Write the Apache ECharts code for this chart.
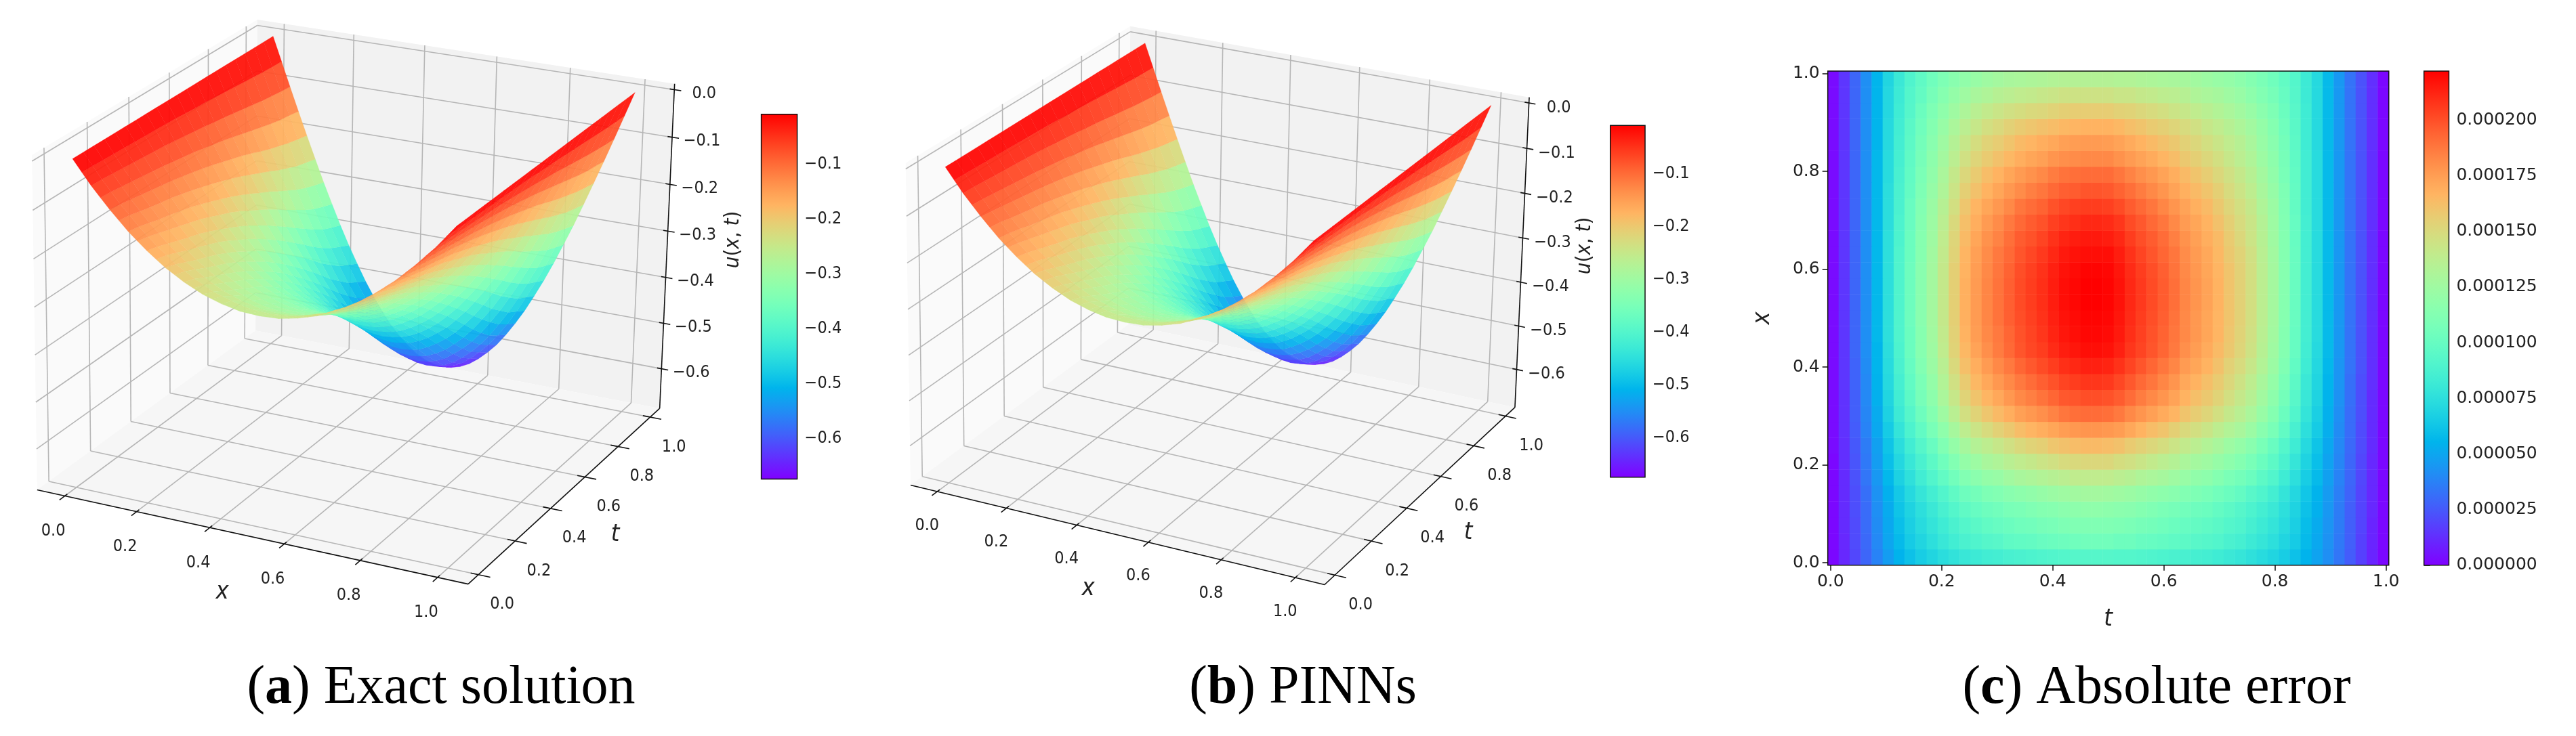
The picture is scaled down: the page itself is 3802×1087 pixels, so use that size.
<!DOCTYPE html>
<html><head><meta charset="utf-8">
<style>html,body{margin:0;padding:0;background:#fff}#c{width:3802px;height:1087px}</style>
<script src="https://cdn.jsdelivr.net/npm/echarts@6/dist/echarts.min.js"></script></head>
<body><div id="c"></div><script>
const W=3802,H=1087;
const xTicks=[0,.2,.4,.6,.8,1], tTicks=[0,.2,.4,.6,.8,1], uTicks=[0,-.1,-.2,-.3,-.4,-.5,-.6];
const barTicksU=[-.6,-.5,-.4,-.3,-.2,-.1];
const barTicksErr=[0,25,50,75,100,125,150,175,200];
const xGrid=[0,.025,.05,.075,.1,.125,.15,.175,.2,.225,.25,.275,.3,.325,.35,.375,.4,.425,.45,.475,.5,.525,.55,.575,.6,.625,.65,.675,.7,.725,.75,.775,.8,.825,.85,.875,.9,.925,.95,.975,1];
const tGrid=[0,.05,.1,.15,.2,.25,.3,.35,.4,.45,.5,.55,.6,.65,.7,.75,.8,.85,.9,.95,1];
// depth below zero, -u x 1000, read from the surface; rows follow tGrid, columns follow xGrid
const uDepthMilli=[
[0,24,48,69,90,109,128,144,160,174,188,199,210,219,228,234,240,244,248,249,250,249,248,244,240,234,228,219,210,199,188,174,160,144,128,109,90,69,48,24,0],
[0,25,49,71,93,112,132,149,166,180,195,206,218,227,237,243,249,254,258,259,260,259,258,254,249,243,237,227,218,206,195,180,166,149,132,112,93,71,49,25,0],
[0,26,51,74,97,118,138,156,174,189,205,217,230,240,250,257,264,268,273,274,275,274,273,268,264,257,250,240,230,217,205,189,174,156,138,118,97,74,51,26,0],
[0,27,53,77,101,123,145,163,182,199,215,228,241,252,263,270,278,283,287,289,290,289,287,283,278,270,263,252,241,228,215,199,182,163,145,123,101,77,53,27,0],
[0,28,55,80,105,128,150,170,190,207,224,238,252,264,275,283,290,296,300,302,303,302,300,296,290,283,275,264,252,238,224,207,190,170,150,128,105,80,55,28,0],
[0,29,57,83,109,132,156,177,197,216,233,248,263,275,287,295,303,309,314,316,317,316,314,309,303,295,287,275,263,248,233,216,197,177,156,132,109,83,57,29,0],
[0,30,59,86,113,138,162,184,206,225,244,260,275,288,300,309,318,324,329,331,332,331,329,324,318,309,300,288,275,260,244,225,206,184,162,138,113,86,59,30,0],
[0,31,61,90,118,144,170,193,216,236,256,273,289,303,316,326,334,341,347,349,350,349,347,341,334,326,316,303,289,273,256,236,216,193,170,144,118,90,61,31,0],
[0,32,64,94,123,151,178,203,227,249,270,288,305,320,333,344,353,360,366,369,370,369,366,360,353,344,333,320,305,288,270,249,227,203,178,151,123,94,64,32,0],
[0,33,67,98,129,158,187,212,238,261,283,302,321,336,351,362,372,380,386,389,390,389,386,380,372,362,351,336,321,302,283,261,238,212,187,158,129,98,67,33,0],
[0,35,70,103,135,166,196,223,250,275,298,319,338,355,370,382,393,401,408,410,412,410,408,401,393,382,370,355,338,319,298,275,250,223,196,166,135,103,70,35,0],
[0,37,73,108,142,174,206,236,264,290,315,337,358,376,393,405,417,426,432,436,437,436,432,426,417,405,393,376,358,337,315,290,264,236,206,174,142,108,73,37,0],
[0,38,77,113,149,183,217,248,278,306,333,356,378,398,415,429,441,451,458,461,463,461,458,451,441,429,415,398,378,356,333,306,278,248,217,183,149,113,77,38,0],
[0,40,80,119,156,193,229,261,294,323,351,376,400,420,439,454,467,477,484,488,490,488,484,477,467,454,439,420,400,376,351,323,294,261,229,193,156,119,80,40,0],
[0,42,84,125,164,203,240,275,309,341,370,397,422,444,464,479,493,504,512,516,518,516,512,504,493,479,464,444,422,397,370,341,309,275,240,203,164,125,84,42,0],
[0,44,88,131,173,213,253,290,326,359,390,419,446,469,490,507,521,533,542,546,548,546,542,533,521,507,490,469,446,419,390,359,326,290,253,213,173,131,88,44,0],
[0,46,92,137,181,224,265,304,342,378,411,442,469,494,516,534,550,562,571,576,578,576,571,562,550,534,516,494,469,442,411,378,342,304,265,224,181,137,92,46,0],
[0,48,96,143,188,233,277,318,358,395,429,461,490,517,540,559,575,589,598,603,605,603,598,589,575,559,540,517,490,461,429,395,358,318,277,233,188,143,96,48,0],
[0,50,99,148,195,242,287,330,372,410,446,480,510,538,562,582,599,613,623,628,630,628,623,613,599,582,562,538,510,480,446,410,372,330,287,242,195,148,99,50,0],
[0,51,102,151,200,248,295,339,382,421,458,493,525,553,578,598,616,631,640,646,648,646,640,631,616,598,578,553,525,493,458,421,382,339,295,248,200,151,102,51,0],
[0,52,104,155,205,254,302,347,391,432,470,506,538,567,593,614,632,647,657,663,665,663,657,647,632,614,593,567,538,506,470,432,391,347,302,254,205,155,104,52,0]];
const uExact=uDepthMilli.map(r=>r.map(v=>-v/1000));
const uPINNs=uExact;
const errT=[.005,.025,.045,.064,.084,.104,.124,.144,.163,.183,.203,.223,.243,.262,.282,.302,.322,.342,.361,.381,.401,.421,.441,.46,.48,.5,.52,.54,.559,.579,.599,.619,.639,.658,.678,.698,.718,.737,.757,.777,.797,.817,.836,.856,.876,.896,.916,.935,.955,.975,.995];
const errX=[.011,.044,.076,.109,.141,.174,.207,.239,.272,.304,.337,.37,.402,.435,.467,.5,.533,.565,.598,.63,.663,.696,.728,.761,.793,.826,.859,.891,.924,.956,.989];
// absolute error x 1e6; rows follow errX, columns follow errT
const errMicro=[
[2,11,20,29,38,47,55,61,66,70,74,77,80,82,84,85,87,88,89,90,91,92,93,93,93,93,92,92,91,90,89,88,87,86,85,83,81,79,76,73,70,66,61,55,49,42,34,26,18,10,2],
[2,11,21,30,40,50,58,65,70,75,80,84,88,90,93,94,97,98,99,101,102,103,104,105,105,105,103,103,101,100,99,97,96,94,93,91,88,86,82,79,75,70,65,58,51,43,35,27,18,10,2],
[2,12,21,31,41,51,60,67,73,78,83,88,92,95,98,100,102,104,105,107,108,110,111,111,111,111,110,109,107,106,104,102,100,99,97,95,92,90,86,82,78,73,67,59,52,44,36,27,19,10,2],
[2,12,22,31,42,52,62,69,75,81,87,92,97,100,103,105,108,109,111,113,114,116,117,118,118,117,116,115,113,111,109,107,105,103,102,99,96,93,89,85,81,75,69,61,54,45,36,27,19,11,2],
[2,12,22,32,43,54,64,72,79,85,91,97,103,106,110,112,115,117,119,121,123,125,126,127,127,126,125,123,121,119,117,115,112,110,108,105,102,99,94,90,85,78,71,63,55,46,37,28,19,11,2],
[2,12,23,34,45,57,68,76,84,91,98,105,112,116,120,122,126,129,131,133,135,137,139,139,139,139,137,135,132,130,128,125,122,119,117,113,109,106,102,96,91,83,75,66,58,48,38,29,20,11,2],
[2,13,24,35,47,60,71,80,88,96,104,112,120,124,129,132,136,139,141,144,146,149,150,151,151,151,148,146,143,140,137,134,130,127,125,121,117,113,108,102,96,88,79,69,60,49,39,29,20,11,2],
[3,13,25,36,48,62,74,84,93,101,111,120,128,134,138,142,146,150,153,155,159,161,163,164,164,163,161,157,154,151,148,144,140,137,133,129,124,120,115,108,101,92,83,72,62,51,40,30,21,12,2],
[3,14,26,38,51,65,78,89,98,108,118,128,138,144,149,154,158,163,166,169,172,175,177,178,178,177,175,171,167,163,160,155,150,147,143,138,133,129,123,115,108,98,87,75,65,53,41,31,21,12,2],
[3,14,27,39,52,68,82,93,103,113,125,136,147,153,159,164,169,174,177,180,184,188,190,191,191,190,187,182,178,174,170,166,160,156,152,147,141,136,130,122,113,102,91,78,67,54,42,31,22,12,2],
[3,14,27,40,54,70,84,96,107,117,130,142,153,160,166,171,177,182,185,189,193,197,198,200,200,199,196,191,186,182,178,173,167,162,158,153,147,141,135,126,117,106,94,80,69,55,43,32,22,12,2],
[3,15,28,40,55,72,86,98,109,120,133,146,157,165,171,177,182,187,191,195,199,203,205,207,207,206,202,197,192,188,183,178,171,167,162,157,151,145,138,129,120,108,96,81,70,56,44,32,22,13,2],
[3,15,28,41,56,73,88,100,112,123,136,150,162,169,176,182,187,193,197,201,205,209,211,213,213,212,208,203,198,193,188,183,176,172,167,161,154,149,142,133,123,111,98,83,71,57,44,33,23,13,2],
[3,15,29,42,56,74,89,102,114,125,139,153,165,173,180,186,192,198,202,205,210,214,216,218,218,217,213,207,203,198,193,187,180,175,170,164,158,152,145,135,125,113,100,84,72,58,45,33,23,13,2],
[3,15,29,42,57,75,90,102,114,126,140,154,167,175,182,187,193,199,203,207,212,216,218,220,220,219,215,209,204,199,194,188,182,177,172,166,159,153,146,136,126,113,100,85,73,58,45,33,23,13,2],
[3,15,29,42,57,75,90,103,115,127,141,155,168,176,183,189,195,200,204,208,213,217,219,221,221,220,216,210,205,200,195,189,182,177,172,166,160,154,147,137,127,114,101,85,73,58,45,33,23,13,2],
[3,15,29,42,57,75,90,103,115,127,141,155,168,176,183,189,195,201,205,209,214,218,220,222,222,221,217,211,206,201,196,190,183,178,173,167,160,154,147,137,127,114,101,85,73,58,45,33,23,13,2],
[3,15,29,42,57,75,90,103,115,127,141,155,168,176,183,189,195,201,205,209,214,218,220,222,222,221,217,211,206,201,196,190,183,178,173,167,160,154,147,137,127,114,101,85,73,58,45,33,23,13,2],
[3,15,29,42,57,75,90,103,115,127,141,155,167,175,182,188,194,200,204,208,213,217,219,221,221,220,216,210,205,200,195,189,182,177,172,166,160,154,147,137,127,114,101,85,73,58,45,33,23,13,2],
[3,15,29,42,57,75,90,102,114,126,140,153,166,174,181,187,192,198,202,206,211,215,217,218,218,218,214,208,203,198,193,188,181,176,171,165,158,153,146,136,126,113,101,85,73,58,45,33,23,13,2],
[3,15,29,42,57,75,89,102,114,125,139,152,164,172,179,184,190,196,199,203,208,212,214,215,215,214,211,205,200,196,191,185,179,174,169,164,157,151,144,135,125,113,100,85,73,58,45,33,23,13,2],
[3,15,29,42,57,74,89,101,113,124,137,150,162,169,176,181,187,192,196,199,204,207,209,211,211,210,207,201,197,192,188,182,176,172,167,161,155,149,143,134,124,112,100,85,73,58,45,33,23,13,2],
[3,15,29,42,57,74,88,101,112,123,135,147,159,166,172,177,182,188,191,194,199,202,204,205,205,204,201,196,192,188,183,178,173,168,164,158,152,147,141,132,123,111,99,84,73,58,45,33,23,13,2],
[3,15,29,42,57,74,88,99,110,121,132,144,155,161,167,172,177,181,185,188,192,195,196,198,198,197,194,190,186,182,178,173,168,164,160,155,149,144,138,129,121,110,99,84,73,58,45,33,23,13,2],
[3,15,29,42,57,73,87,98,109,119,130,141,151,157,163,167,172,176,179,182,186,189,190,191,191,191,188,184,180,177,173,169,164,160,156,151,146,141,135,127,119,108,98,84,73,58,45,33,23,13,2],
[3,15,29,42,57,73,86,97,107,117,127,137,146,152,157,161,165,169,172,174,178,180,181,182,182,182,179,176,173,170,166,163,158,155,151,147,142,137,132,124,117,107,97,84,73,58,45,33,23,13,2],
[3,15,29,42,56,72,85,96,106,115,125,134,142,148,153,156,160,164,166,169,171,174,175,176,176,175,173,170,167,164,161,158,154,151,147,143,139,135,129,122,115,106,96,83,72,58,45,33,23,13,2],
[3,15,29,42,56,72,84,95,104,113,122,130,137,142,147,150,154,157,159,161,163,165,166,167,167,167,165,162,160,157,155,152,149,146,142,139,135,131,126,120,113,104,95,83,72,58,45,33,23,13,2],
[3,15,29,42,56,71,83,93,102,110,118,125,131,136,140,143,146,148,150,151,153,155,156,156,156,156,154,153,151,149,147,144,142,139,136,133,130,126,122,116,110,102,94,83,72,58,45,33,23,13,2],
[3,15,29,42,56,71,82,92,99,107,114,120,125,129,132,135,137,139,140,142,143,145,145,145,145,145,143,143,141,140,138,137,135,132,130,128,125,122,117,112,107,100,93,82,72,58,45,33,23,13,2],
[3,15,29,42,56,70,81,90,97,104,110,115,119,122,125,127,129,130,131,132,133,134,134,134,134,134,133,133,132,131,130,129,128,126,124,122,120,117,113,109,104,98,92,82,72,58,45,33,23,13,2]];
const uMin=-.674,uMax=-.0085,errMax=222;
const FONT='"DejaVu Sans Condensed","DejaVu Sans",sans-serif', FONTC='"DejaVu Sans",sans-serif', SERIF='"Liberation Serif",serif', LS=25;

function rainbow(v){v=Math.max(0,Math.min(1,v));const c=[Math.abs(2*v-.5),Math.sin(Math.PI*v),Math.cos(Math.PI*v/2)].map(k=>Math.round(255*Math.max(0,Math.min(1,k))));return `rgb(${c[0]},${c[1]},${c[2]})`;}
const rainbowStops=n=>Array.from({length:n+1},(_,i)=>rainbow(i/n));

function fitCamera(pairs){
  const A=[],b=[];
  pairs.forEach(([X,Y,Z,u,v])=>{A.push([X,Y,Z,1,0,0,0,0,-u*X,-u*Y,-u*Z]);b.push(u);A.push([0,0,0,0,X,Y,Z,1,-v*X,-v*Y,-v*Z]);b.push(v);});
  const n=11,M=[];
  for(let i=0;i<n;i++){M.push([]);for(let j=0;j<n;j++){let s=0;A.forEach(r=>s+=r[i]*r[j]);M[i].push(s);}let s=0;A.forEach((r,k)=>s+=r[i]*b[k]);M[i].push(s);}
  for(let i=0;i<n;i++){let p=i;for(let k=i+1;k<n;k++)if(Math.abs(M[k][i])>Math.abs(M[p][i]))p=k;[M[i],M[p]]=[M[p],M[i]];
    for(let k=0;k<n;k++)if(k!==i){const f=M[k][i]/M[i][i];for(let j=i;j<=n;j++)M[k][j]-=f*M[i][j];}}
  return M.map((r,i)=>r[n]/r[i]);
}
const panelDefs=[
{values:uExact,corners:[[0,0,0,59.7,721.3],[1,0,0,689.9,865.8],[1,1,0,976.8,598.2],[1,1,1,993.4,125.9],[0,1,1,385.6,27.7],[0,0,1,43.1,228.2],[0,1,0,370.6,492.4]],
 lx:[-17,52],lt:[35,44],lz:[44,6],xName:[328,875],tName:[908,790],uName:[1082,354]},
{values:uPINNs,corners:[[0,0,0,1349.7,715.8],[1,0,0,1952.8,866.5],[1,1,0,2239.8,596.1],[1,1,1,2255.1,146.6],[0,1,1,1673.5,38],[0,0,1,1332.9,238.6],[0,1,0,1658.2,482.7]],
 lx:[-15,50],lt:[38,44],lz:[44,7],xName:[1606,870],tName:[2167,787],uName:[2339,363]}];
const RX=[-.078,1.078],RT=[-.055,1.06],RZ=[-.688,.0124];
const base={xAxisIndex:0,yAxisIndex:0,silent:true,animation:false,progressive:0,clip:false};
const series=[];
const viewDir=[.433,-.75,.5];
const toBox=(x,t,z)=>[(x-RX[0])/(RX[1]-RX[0]),(t-RT[0])/(RT[1]-RT[0]),(z-RZ[0])/(RZ[1]-RZ[0])];
panelDefs.forEach(pd=>{
  const P=fitCamera(pd.corners);
  const proj=(x,t,z)=>{const [X,Y,Z]=toBox(x,t,z);const w=P[8]*X+P[9]*Y+P[10]*Z+1;return [(P[0]*X+P[1]*Y+P[2]*Z+P[3])/w,(P[4]*X+P[5]*Y+P[6]*Z+P[7])/w];};
  const [x0,x1]=RX,[t0,t1]=RT,[z0,z1]=RZ;
  const panes=[
   {c:'#fafafa',p:[[x0,t0,z0],[x0,t1,z0],[x0,t1,z1],[x0,t0,z1]]},
   {c:'#f2f2f2',p:[[x0,t1,z0],[x1,t1,z0],[x1,t1,z1],[x0,t1,z1]]},
   {c:'#f6f6f6',p:[[x0,t0,z0],[x1,t0,z0],[x1,t1,z0],[x0,t1,z0]]}];
  series.push({...base,type:'custom',data:panes.map((_,i)=>[i]),renderItem:(p,api)=>{const q=panes[api.value(0)];
    return {type:'polygon',shape:{points:q.p.map(a=>api.coord(proj(...a)))},style:{fill:q.c}};}});
  const lines=[];
  xTicks.forEach(x=>{lines.push([x,t0,z0,x,t1,z0,0],[x,t1,z0,x,t1,z1,0],[x,t0-.025,z0,x,t0+.012,z0,2]);});
  tTicks.forEach(t=>{lines.push([x0,t,z0,x1,t,z0,0],[x0,t,z0,x0,t,z1,0],[x1-.02,t,z0,x1+.03,t,z0,2]);});
  uTicks.forEach(z=>{lines.push([x0,t0,z,x0,t1,z,0],[x0,t1,z,x1,t1,z,0],[x1-.012,t1,z,x1+.018,t1,z,2]);});
  lines.push([x0,t0,z0,x1,t0,z0,1],[x1,t0,z0,x1,t1,z0,1],[x1,t1,z0,x1,t1,z1,1]);
  series.push({...base,type:'custom',data:lines.map((_,i)=>[i]),renderItem:(p,api)=>{const l=lines[api.value(0)];
    const a=api.coord(proj(l[0],l[1],l[2])),b=api.coord(proj(l[3],l[4],l[5]));const k=l[6];
    return {type:'line',shape:{x1:a[0],y1:a[1],x2:b[0],y2:b[1]},style:{stroke:k?'#111':'#b6b6b6',lineWidth:k?1.6:1.6}};}});
  const U=pd.values,cells=[];
  for(let j=0;j<tGrid.length-1;j++)for(let i=0;i<xGrid.length-1;i++){
    const m=[toBox(xGrid[i],tGrid[j],U[j][i]),toBox(xGrid[i+1],tGrid[j+1],U[j+1][i+1])];
    let d=0;m.forEach(b=>b.forEach((v,k)=>d+=v*viewDir[k]));cells.push([i,j,d]);}
  cells.sort((a,b)=>a[2]-b[2]);
  series.push({...base,type:'custom',data:cells,renderItem:(p,api)=>{const i=api.value(0),j=api.value(1);
    const q=[[i,j],[i+1,j],[i+1,j+1],[i,j+1]];let s=0;
    const pts=q.map(([a,b])=>{s+=U[b][a];return api.coord(proj(xGrid[a],tGrid[b],U[b][a]));});
    const col=rainbow((s/4-uMin)/(uMax-uMin));
    return {type:'polygon',shape:{points:pts},style:{fill:col,stroke:col,lineWidth:.3,opacity:.94}};}});
  const texts=[];
  const fmt=v=>v.toFixed(1).replace('-','\u2212').replace('\u22120.0','0.0');
  xTicks.forEach(x=>texts.push({a:[x,t0,z0],o:pd.lx,s:fmt(x)}));
  tTicks.forEach(t=>texts.push({a:[x1,t,z0],o:pd.lt,s:fmt(t)}));
  uTicks.forEach(z=>texts.push({a:[x1,t1,z],o:pd.lz,s:fmt(z)}));
  series.push({...base,type:'custom',data:texts.map((_,i)=>[i]),renderItem:(p,api)=>{const q=texts[api.value(0)];const c=api.coord(proj(...q.a));
    return {type:'text',x:c[0]+q.o[0],y:c[1]+q.o[1],style:{text:q.s,fontFamily:FONT,fontSize:LS,fill:'#222',align:'center',verticalAlign:'middle'}};}});
  const names=[{xy:pd.xName,s:'x'},{xy:pd.tName,s:'t'}];
  series.push({...base,type:'custom',data:names.map((_,i)=>[i]),renderItem:(p,api)=>{const q=names[api.value(0)];const c=api.coord(q.xy);
    return {type:'text',x:c[0],y:c[1],style:{text:q.s,fontFamily:FONT,fontSize:36,fontStyle:'italic',fill:'#222',align:'center',verticalAlign:'middle'}};}});
  series.push({...base,type:'custom',data:[[0]],renderItem:(p,api)=>{const c=api.coord(pd.uName);
    return {type:'text',x:c[0],y:c[1],rotation:Math.PI/2,style:{text:'{i|u}({i|x}, {i|t})',fontFamily:FONT,fontSize:31,fill:'#222',align:'center',verticalAlign:'middle',rich:{i:{fontStyle:'italic',fontFamily:FONT,fontSize:31,fill:'#222'}}}};}});
});
const grids=[{left:0,top:0,width:W,height:H},
 {left:2697.7,top:105,width:828,height:729.7},
 {left:1123.6,top:168.7,width:53,height:538.8},
 {left:2376.7,top:185.3,width:51.3,height:519.4},
 {left:3577.6,top:105,width:36.8,height:729.7}];
const xAxes=[{gridIndex:0,type:'value',min:0,max:W,show:false},
 {gridIndex:1,type:'category',data:errT.map(String),show:false},
 {gridIndex:1,type:'value',min:-.005,max:1.005,position:'bottom',name:'t',nameLocation:'middle',nameGap:62,
  nameTextStyle:{fontFamily:FONT,fontStyle:'italic',fontSize:36,color:'#222'},splitLine:{show:false},
  axisLine:{show:false},axisTick:{show:true,length:8,customValues:tTicks,lineStyle:{color:'#111',width:1.5}},
  axisLabel:{customValues:tTicks,formatter:v=>(+v).toFixed(1),fontFamily:FONTC,fontSize:LS,color:'#222',margin:12}}];
const yAxes=[{gridIndex:0,type:'value',min:0,max:H,inverse:true,show:false},
 {gridIndex:1,type:'category',data:errX.map(String),show:false},
 {gridIndex:1,type:'value',min:-.005,max:1.005,position:'left',name:'x',nameLocation:'middle',nameGap:78,
  nameTextStyle:{fontFamily:FONT,fontStyle:'italic',fontSize:36,color:'#222'},splitLine:{show:false},
  axisLine:{show:false},axisTick:{show:true,length:8,customValues:xTicks,lineStyle:{color:'#111',width:1.5}},
  axisLabel:{customValues:xTicks,formatter:v=>(+v).toFixed(1),fontFamily:FONTC,fontSize:LS,color:'#222',margin:12}}];
series.push({type:'heatmap',xAxisIndex:1,yAxisIndex:1,animation:false,progressive:0,silent:true,
  data:errMicro.flatMap((r,j)=>r.map((v,i)=>[i,j,v]))});
const hIdx=series.length-1;
series.push({type:'custom',xAxisIndex:2,yAxisIndex:2,silent:true,animation:false,data:[[0]],renderItem:(p,api)=>{
  const a=api.coord([-.005,-.005]),b=api.coord([1.005,1.005]);
  return {type:'rect',shape:{x:a[0],y:b[1],width:b[0]-a[0],height:a[1]-b[1]},style:{fill:'none',stroke:'#111',lineWidth:1.5}};}});
function colorbar(g,min,max,ticks,fmt,margin,font){
  const xi=xAxes.length,yi=yAxes.length;
  xAxes.push({gridIndex:g,type:'value',min:0,max:1,show:false});
  yAxes.push({gridIndex:g,type:'value',min,max,position:'right',splitLine:{show:false},axisLine:{show:false},
    axisTick:{show:true,length:9,customValues:ticks,lineStyle:{color:'#111',width:1.5}},
    axisLabel:{customValues:ticks,formatter:fmt,fontFamily:font,fontSize:LS,color:'#222',margin}});
  const stops=rainbowStops(64).map((c,i)=>({offset:i/64,color:c}));
  series.push({type:'custom',xAxisIndex:xi,yAxisIndex:yi,silent:true,animation:false,data:[[min,max]],renderItem:(p,api)=>{
    const a=api.coord([0,api.value(0)]),b=api.coord([1,api.value(1)]);
    return {type:'rect',shape:{x:a[0],y:b[1],width:b[0]-a[0],height:a[1]-b[1]},
     style:{stroke:'#111',lineWidth:1.5,fill:{type:'linear',x:0,y:1,x2:0,y2:0,colorStops:stops}}};}});
}
const fmtU=v=>(+v).toFixed(1).replace('-','\u2212');
colorbar(2,uMin,uMax,barTicksU,fmtU,11,FONT);
colorbar(3,uMin,uMax,barTicksU,fmtU,11,FONT);
colorbar(4,0,errMax,barTicksErr,v=>(v*1e-6).toFixed(6),11,FONTC);
const cap=(s,cx)=>({text:s,left:cx,textAlign:'center',top:972,textStyle:{fontFamily:SERIF,fontSize:80,fontWeight:'normal',color:'#000',rich:{b:{fontFamily:SERIF,fontSize:80,fontWeight:'bold',color:'#000'}}}});
const chart=echarts.init(document.getElementById('c'),null,{renderer:'canvas'});
chart.setOption({animation:false,backgroundColor:'#fff',
 title:[cap('({b|a}) Exact solution',646),cap('({b|b}) PINNs',1918),cap('({b|c}) Absolute error',3178)],
 grid:grids,xAxis:xAxes,yAxis:yAxes,
 visualMap:{show:false,type:'continuous',min:0,max:errMax,dimension:2,seriesIndex:hIdx,inRange:{color:rainbowStops(32)}},
 series});
</script></body></html>
